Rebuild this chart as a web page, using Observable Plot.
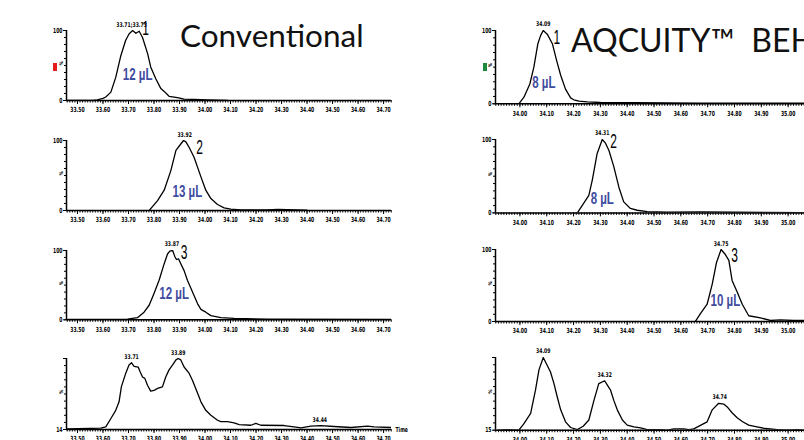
<!DOCTYPE html>
<html><head><meta charset="utf-8">
<script src="https://cdn.jsdelivr.net/npm/d3@7"></script>
<script src="https://cdn.jsdelivr.net/npm/@observablehq/plot@0.6"></script>
<style>
body{margin:0;background:#fff;}
#wrap{position:relative;width:804px;height:440px;overflow:hidden;background:#fff;}
.p{position:absolute;}
</style></head><body><div id="wrap"></div>
<script>
// ---------- DATA ----------
const titles = ["Conventional", "AQCUITY\u2122  BEH"];

// Conventional column (time in min, intensity in %)
const conv1T = [33.457, 33.56, 33.578, 33.60, 33.611, 33.631, 33.650, 33.670, 33.689, 33.702, 33.716, 33.729, 33.742, 33.755, 33.775, 33.787, 33.807, 33.827, 33.840, 33.859, 33.892, 33.918, 33.957, 34.010, 34.088];
const conv1I = [0, 0.3, 1, 3, 5, 12, 33, 64, 86, 95, 100, 96, 99, 90, 67, 48, 31, 17, 13, 6, 4, 2, 1.5, 1, 0];

const conv2T = [33.781, 33.814, 33.840, 33.866, 33.886, 33.905, 33.916, 33.925, 33.938, 33.957, 33.984, 34.003, 34.023, 34.049, 34.075, 34.101, 34.140, 34.245, 34.284, 34.40];
const conv2I = [0, 14, 29, 57, 86, 95, 100, 98, 90, 76, 48, 29, 17, 8.6, 3.8, 1.9, 1, 1, 1.4, 0.5];

const conv3T = [33.461, 33.696, 33.735, 33.761, 33.781, 33.800, 33.820, 33.840, 33.853, 33.862, 33.873, 33.882, 33.888, 33.896, 33.905, 33.918, 33.931, 33.951, 33.971, 33.984, 34.003, 34.023, 34.062, 34.114, 34.245, 34.731];
const conv3I = [0.5, 1, 3, 11, 21, 38, 57, 81, 95, 99, 100, 91, 87, 88, 81, 71, 57, 40, 23, 15, 11, 6, 3, 2, 1, 0.5];

const conv4T = [33.461, 33.591, 33.611, 33.631, 33.650, 33.663, 33.672, 33.689, 33.702, 33.712, 33.722, 33.738, 33.746, 33.755, 33.764, 33.775, 33.787, 33.800, 33.814, 33.833, 33.846, 33.859, 33.873, 33.886, 33.895, 33.905, 33.918, 33.938, 33.951, 33.971, 33.984, 34.003, 34.023, 34.049, 34.062, 34.088, 34.114, 34.134, 34.180, 34.199, 34.219, 34.310, 34.349, 34.376, 34.415, 34.454, 34.506, 34.572, 34.637, 34.663, 34.731];
const conv4I = [0.9, 1.9, 3.8, 15.5, 27, 39, 60, 79, 91, 94, 89, 88, 81, 74, 72, 62, 54, 55, 58, 60, 74, 84, 91, 98, 100, 98, 88, 79, 69, 51, 39, 27, 20, 13, 11, 11, 9.4, 7, 6, 8.5, 6, 5.6, 3.8, 2.3, 4.7, 5.6, 4.2, 2.8, 4.7, 3.8, 2.8];

// ACQUITY BEH column
const beh1T = [33.909, 33.996, 34.015, 34.037, 34.052, 34.067, 34.077, 34.087, 34.102, 34.121, 34.137, 34.152, 34.170, 34.189, 34.201, 34.220, 34.251, 34.301, 34.425, 34.673, 35.058];
const beh1I = [0, 0, 9, 27, 50, 82, 93, 100, 95, 82, 59, 39, 20, 8, 5.5, 3.6, 2.7, 1.8, 1.4, 0.9, 0.9];

const beh2T = [34.214, 34.232, 34.257, 34.270, 34.288, 34.307, 34.319, 34.332, 34.350, 34.369, 34.387, 34.412, 34.437, 34.475, 34.549, 34.673, 34.797, 35.058];
const beh2I = [0, 10, 24, 45, 81, 100, 95, 85, 63, 35, 15, 6, 3.6, 1.8, 0.9, 1.4, 0.9, 0.5];

const beh3T = [34.654, 34.673, 34.698, 34.717, 34.733, 34.750, 34.766, 34.779, 34.791, 34.810, 34.829, 34.853, 34.897, 34.934, 34.971, 35.021, 35.058];
const beh3I = [0, 11, 24, 52, 82, 100, 93, 85, 57, 41, 24, 8, 5, 1.4, 2.3, 1.4, 1.4];

const beh4T = [33.916, 33.953, 33.996, 34.015, 34.040, 34.058, 34.071, 34.087, 34.102, 34.114, 34.127, 34.139, 34.152, 34.170, 34.189, 34.214, 34.236, 34.257, 34.276, 34.294, 34.316, 34.326, 34.338, 34.350, 34.363, 34.382, 34.400, 34.425, 34.450, 34.475, 34.524, 34.549, 34.574, 34.611, 34.630, 34.648, 34.698, 34.717, 34.741, 34.760, 34.773, 34.791, 34.810, 34.829, 34.853, 34.884, 34.915, 34.959, 34.996, 35.034, 35.058];
const beh4I = [0, 0.9, 0, 9, 23, 55, 83, 100, 89, 80, 64, 46, 28, 11.5, 3.7, 0.9, 5.5, 14, 41, 64, 68, 62, 55, 41, 28, 14, 7, 4.6, 3.2, 0.9, 0.9, 0, 1.8, 1.8, 0.9, 1.8, 11.5, 28, 37, 36, 32, 24, 17, 12, 7, 4.6, 2.3, 0.9, 0, 0.9, 0];

// Peak apex labels
const convPeakT = [[33.712], [33.92], [33.87], [33.712, 33.895, 34.45]];
const convPeakI = [[100], [100], [100], [94, 100, 5.6]];
const convPeakText = [["33.71;33.73"], ["33.92"], ["33.87"], ["33.71", "33.89", "34.44"]];
const behPeakT = [[34.087], [34.307], [34.750], [34.087, 34.316, 34.745]];
const behPeakI = [[100], [100], [100], [100, 68, 37]];
const behPeakText = [["34.09"], ["34.31"], ["34.75"], ["34.09", "34.32", "34.74"]];

// Peak numbers
const peakNumbers = ["1", "2", "3"];
const convNumT = [33.754, 33.966, 33.905];
const convNumI = [103, 90, 97.5];
const behNumT = [34.125, 34.337, 34.788];
const behNumI = [91, 96.7, 91.7];

// Injection-volume labels
const convVol = ["12 \u00b5L", "13 \u00b5L", "12 \u00b5L"];
const convVolT = [33.736, 33.931, 33.879];
const convVolI = [36, 26, 37.5];
const behVol = ["8 \u00b5L", "8 \u00b5L", "10 \u00b5L"];
const behVolT = [34.089, 34.307, 34.766];
const behVolI = [29, 19.6, 29];

// Y-axis tick labels (bottom, top) per row
const yLabelsConv = [["0", "100"], ["0", "100"], ["0", "100"], ["14", ""]];
const yLabelsBeh = [["0", "100"], ["0", "100"], ["0", "100"], ["15", ""]];

// ---------- DRAW ----------
const wrap = document.getElementById("wrap");
const narrow = "'DejaVu Sans Condensed','Liberation Sans Narrow',Arial,sans-serif";

// horizontal squeeze factor by font size (condensed look of the original)
const squeezeBySize = {"7px": 0.72, "6.5px": 0.78, "16px": 0.72, "20px": 0.6};

function squeezeAll(svg) {
  svg.querySelectorAll("text").forEach(t => {
    const f = squeezeBySize[getComputedStyle(t).fontSize];
    if (!f) return;
    let w = t.getComputedTextLength();
    if (!(w > 0)) { try { w = t.getBBox().width; } catch (e) { w = 0; } }
    if (w > 0) { t.setAttribute("textLength", (w * f).toFixed(2)); t.setAttribute("lengthAdjust", "spacingAndGlyphs"); }
  });
}

function panel(o) {
  const mt = 30, mb = 20;
  const h = mt + (o.y0 - o.y100) + mb;
  const data = o.T.map((t, i) => ({t, v: o.I[i]}));
  const minor = d3.range(Math.ceil(o.xDomain[0] * 100), Math.floor(o.xDomain[1] * 100) + 1).map(k => k / 100);
  const major = minor.filter(d => Math.round(d * 100) % 10 === 0);
  const peaks = o.peakT.map((t, i) => ({t, v: o.peakI[i], s: o.peakText[i]}));
  const marks = [
    Plot.axisX({ticks: minor, tickSize: 2.5, tickFormat: () => "", strokeWidth: 1}),
    Plot.axisX({ticks: major, tickSize: 4, tickPadding: 3, tickFormat: d3.format(".2f"), fontSize: 7, fontWeight: "bold", strokeWidth: 1}),
    Plot.axisY({ticks: d3.range(0, 101, 10), tickSize: 2, tickFormat: () => ""}),
    Plot.axisY({ticks: [0, 100], tickSize: 3, tickPadding: 1, tickFormat: d => d === 0 ? o.yLabels[0] : o.yLabels[1], fontSize: 7, fontWeight: "bold"}),
    Plot.text(["%"], {frameAnchor: "left", dx: -5, rotate: -90, fontSize: 5, fontWeight: "bold"}),
    Plot.ruleY([0], {strokeWidth: 1.5}),
    Plot.ruleX([o.xDomain[0]], {strokeWidth: 1.5}),
    Plot.line(data, {x: "t", y: "v", stroke: "#000", strokeWidth: 1.3, clip: true}),
    Plot.text(peaks, {x: "t", y: "v", text: "s", dy: -4, fontSize: 6.5, fontWeight: "bold", lineAnchor: "bottom"})
  ];
  if (o.num) marks.push(Plot.text([o.num], {x: () => o.numT, y: () => o.numI, text: d => d, fontSize: 20, textAnchor: "start", lineAnchor: "middle", fontFamily: "'Liberation Sans',sans-serif"}));
  if (o.vol) marks.push(Plot.text([o.vol], {x: () => o.volT, y: () => o.volI, text: d => d, fontSize: 16, fontWeight: "bold", fill: "#3f4c9f", lineAnchor: "middle", fontFamily: "'Liberation Sans',sans-serif"}));
  if (o.time) marks.push(Plot.text(["Time"], {frameAnchor: "bottom-right", dx: 4, textAnchor: "start", lineAnchor: "middle", fontSize: 7, fontWeight: "bold"}));
  const svg = Plot.plot({
    width: o.width, height: h, marginTop: mt, marginBottom: mb, marginLeft: o.marginLeft, marginRight: o.marginRight,
    x: {domain: o.xDomain, label: null}, y: {domain: [0, 100], label: null},
    style: {background: "transparent", overflow: "visible", fontFamily: narrow, color: "#000"},
    marks
  });
  svg.classList.add("p");
  svg.style.left = o.left + "px";
  svg.style.top = (o.y100 - mt) + "px";
  wrap.appendChild(svg);
  squeezeAll(svg);
}

const convY100 = [30, 140, 250, 358.3], convY0 = [100, 210, 319.3, 429.3];
const behY100 = [30, 139.3, 249, 357.3], behY0 = [103.3, 212.7, 321, 430];
const convSeries = [[conv1T, conv1I], [conv2T, conv2I], [conv3T, conv3I], [conv4T, conv4I]];
const behSeries = [[beh1T, beh1I], [beh2T, beh2I], [beh3T, beh3I], [beh4T, beh4I]];

for (let r = 0; r < 4; r++) {
  panel({
    T: convSeries[r][0], I: convSeries[r][1], xDomain: [33.457, 34.731],
    left: 0, width: 400, marginLeft: 66, marginRight: 9,
    y100: convY100[r], y0: convY0[r], yLabels: yLabelsConv[r],
    peakT: convPeakT[r], peakI: convPeakI[r], peakText: convPeakText[r],
    num: peakNumbers[r], numT: convNumT[r], numI: convNumI[r],
    vol: convVol[r], volT: convVolT[r], volI: convVolI[r],
    time: r === 3
  });
  panel({
    T: behSeries[r][0], I: behSeries[r][1], xDomain: [33.909, 35.061],
    left: 400, width: 404, marginLeft: 95, marginRight: 0,
    y100: behY100[r], y0: behY0[r], yLabels: yLabelsBeh[r],
    peakT: behPeakT[r], peakI: behPeakI[r], peakText: behPeakText[r],
    num: peakNumbers[r], numT: behNumT[r], numI: behNumI[r],
    vol: behVol[r], volT: behVolT[r], volI: behVolI[r],
    time: false
  });
}

// Titles and colour markers
const ov = d3.select(wrap).append("svg").attr("class", "p").attr("width", 804).attr("height", 440)
  .style("left", "0px").style("top", "0px").style("pointer-events", "none");
ov.append("text").attr("x", 180).attr("y", 46.7).attr("font-family", "Lato, sans-serif").attr("font-size", 31.5).attr("fill", "#111").text(titles[0]);
ov.append("text").attr("x", 571).attr("y", 51.7).attr("font-family", "Lato, sans-serif").attr("font-size", 32).attr("fill", "#111").style("white-space", "pre").text(titles[1]);
ov.append("rect").attr("x", 53).attr("y", 63).attr("width", 4).attr("height", 8).attr("fill", "#e31b1b");
ov.append("rect").attr("x", 483).attr("y", 63).attr("width", 4).attr("height", 8).attr("fill", "#1b8a3c");
</script></body></html>
